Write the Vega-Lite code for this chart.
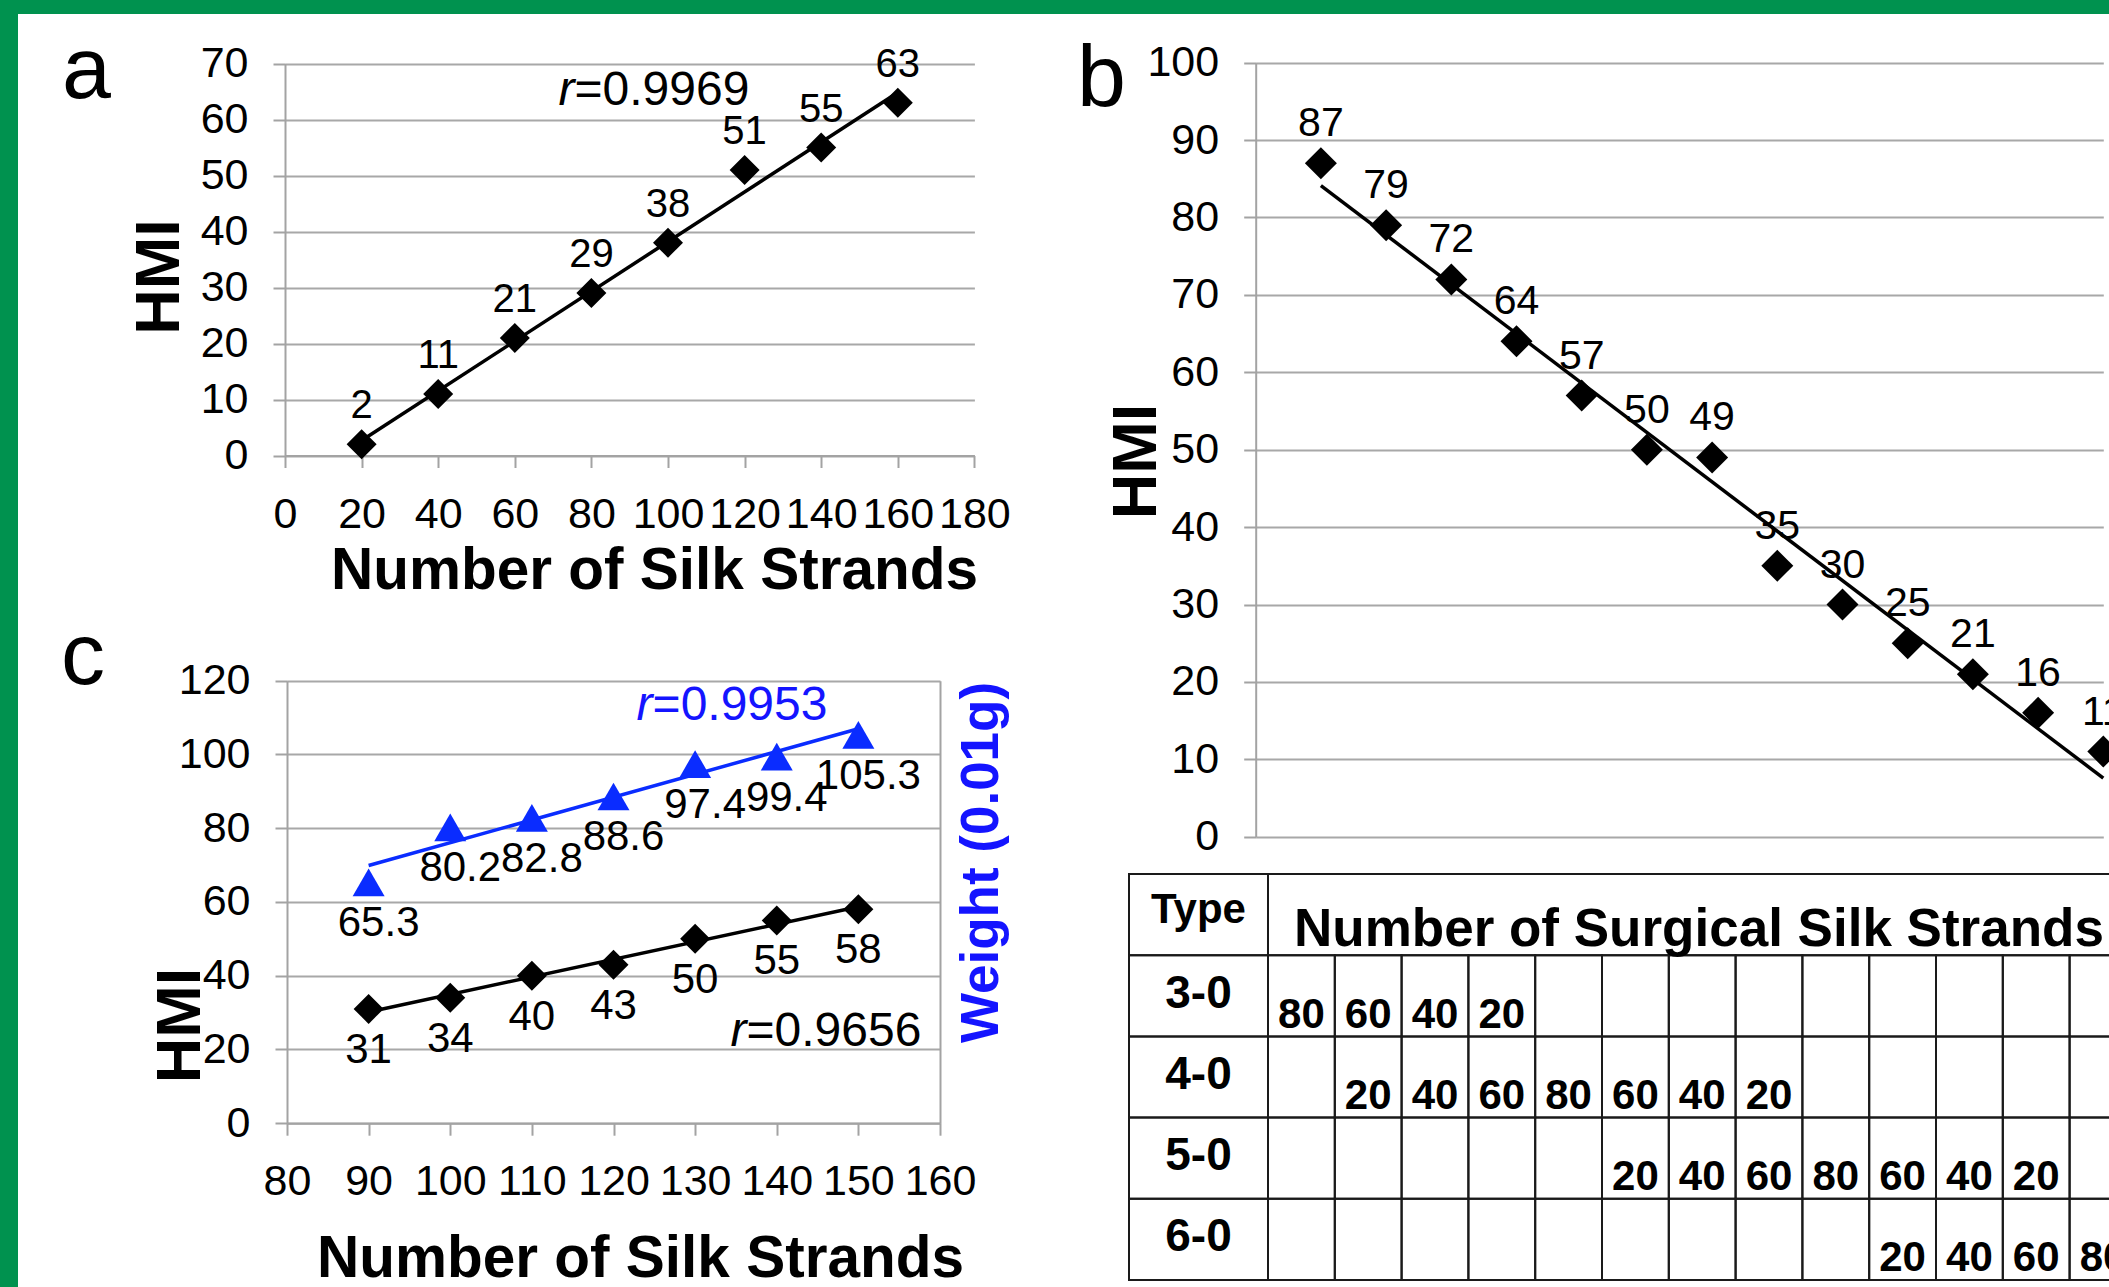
{
  "$schema": "https://vega.github.io/schema/vega-lite/v6.json",
  "width": 2091,
  "height": 1273,
  "autosize": {"type": "none"},
  "padding": {"left": 18, "top": 14, "right": 0, "bottom": 0},
  "background": "#00924f",
  "view": {"fill": "white", "stroke": null},
  "config": {
    "font": "Liberation Sans",
    "view": {"stroke": null},
    "axis": {
      "domainColor": "#a3a3a3", "domainWidth": 2,
      "tickColor": "#a3a3a3", "tickWidth": 2, "tickSize": 12,
      "gridColor": "#a8a8a8", "gridWidth": 2,
      "labelFont": "Liberation Sans", "labelFontSize": 43, "labelColor": "#000000",
      "labelPadding": 25,
      "titleFont": "Liberation Sans", "titleFontWeight": "bold", "titleColor": "#000000"
    }
  },
  "datasets": {
    "a": [{"n":20,"hmi":2},{"n":40,"hmi":11},{"n":60,"hmi":21},{"n":80,"hmi":29},{"n":100,"hmi":38},{"n":120,"hmi":51},{"n":140,"hmi":55},{"n":160,"hmi":63}],
    "b": [{"k":1,"hmi":87},{"k":2,"hmi":79},{"k":3,"hmi":72},{"k":4,"hmi":64},{"k":5,"hmi":57},{"k":6,"hmi":50},{"k":7,"hmi":49},{"k":8,"hmi":35},{"k":9,"hmi":30},{"k":10,"hmi":25},{"k":11,"hmi":21},{"k":12,"hmi":16},{"k":13,"hmi":11}],
    "c": [{"n":90,"hmi":31,"w":65.3},{"n":100,"hmi":34,"w":80.2},{"n":110,"hmi":40,"w":82.8},{"n":120,"hmi":43,"w":88.6},{"n":130,"hmi":50,"w":97.4},{"n":140,"hmi":55,"w":99.4},{"n":150,"hmi":58,"w":105.3}],
    "types": [{"type":"Type","col":"Type"},{"type":"3-0","col":"Type"},{"type":"4-0","col":"Type"},{"type":"5-0","col":"Type"},{"type":"6-0","col":"Type"}],
    "header": [{"type":"Type","col":"hdr","t":"Number of Surgical Silk Strands"}],
    "cells": [
      {"type":"3-0","col":1,"n":80},{"type":"3-0","col":2,"n":60},{"type":"3-0","col":3,"n":40},{"type":"3-0","col":4,"n":20},{"type":"3-0","col":5,"n":null},{"type":"3-0","col":6,"n":null},{"type":"3-0","col":7,"n":null},{"type":"3-0","col":8,"n":null},{"type":"3-0","col":9,"n":null},{"type":"3-0","col":10,"n":null},{"type":"3-0","col":11,"n":null},{"type":"3-0","col":12,"n":null},{"type":"3-0","col":13,"n":null},
      {"type":"4-0","col":1,"n":null},{"type":"4-0","col":2,"n":20},{"type":"4-0","col":3,"n":40},{"type":"4-0","col":4,"n":60},{"type":"4-0","col":5,"n":80},{"type":"4-0","col":6,"n":60},{"type":"4-0","col":7,"n":40},{"type":"4-0","col":8,"n":20},{"type":"4-0","col":9,"n":null},{"type":"4-0","col":10,"n":null},{"type":"4-0","col":11,"n":null},{"type":"4-0","col":12,"n":null},{"type":"4-0","col":13,"n":null},
      {"type":"5-0","col":1,"n":null},{"type":"5-0","col":2,"n":null},{"type":"5-0","col":3,"n":null},{"type":"5-0","col":4,"n":null},{"type":"5-0","col":5,"n":null},{"type":"5-0","col":6,"n":20},{"type":"5-0","col":7,"n":40},{"type":"5-0","col":8,"n":60},{"type":"5-0","col":9,"n":80},{"type":"5-0","col":10,"n":60},{"type":"5-0","col":11,"n":40},{"type":"5-0","col":12,"n":20},{"type":"5-0","col":13,"n":null},
      {"type":"6-0","col":1,"n":null},{"type":"6-0","col":2,"n":null},{"type":"6-0","col":3,"n":null},{"type":"6-0","col":4,"n":null},{"type":"6-0","col":5,"n":null},{"type":"6-0","col":6,"n":null},{"type":"6-0","col":7,"n":null},{"type":"6-0","col":8,"n":null},{"type":"6-0","col":9,"n":null},{"type":"6-0","col":10,"n":20},{"type":"6-0","col":11,"n":40},{"type":"6-0","col":12,"n":60},{"type":"6-0","col":13,"n":80}
    ]
  },
  "layer": [
    {
      "data": {"name": "a"},
      "transform": [{"regression": "hmi", "on": "n"}],
      "mark": {"type": "line", "color": "#000000", "strokeWidth": 3.5},
      "encoding": {
        "x": {"field": "n", "type": "quantitative", "scale": {"domain":[0,180],"range":[267,956.4],"nice":false,"zero":false},
              "axis": {"orient":"bottom","offset":-831.5,"values":[0,20,40,60,80,100,120,140,160,180],"grid":false,"labelOverlap":false,"labelFlush":false,"labelPadding":26,"title":"Number of Silk Strands","titleFontSize":58.5,"titleAngle":0,"titleX":636,"titleY":133,"titleBaseline":"alphabetic","titleAlign":"center"}},
        "y": {"field": "hmi", "type": "quantitative", "scale": {"domain":[0,70],"range":[441.5,49.5],"nice":false,"zero":false},
              "axis": {"orient":"left","offset":-267,"values":[0,10,20,30,40,50,60,70],"grid":true,"labelOverlap":false,"labelFlush":false,"title":"HMI","titleFontSize":63,"titleAngle":270,"titleX":-107,"titleY":262.5,"titleBaseline":"alphabetic","titleAlign":"center"}}
      }
    },
    {
      "data": {"name": "a"},
      "mark": {"type": "point", "shape": "diamond", "filled": true, "size": 900, "color": "#000000", "opacity": 1},
      "encoding": {
        "x": {"field": "n", "type": "quantitative", "scale": {"domain":[0,180],"range":[267,956.4],"nice":false,"zero":false}, "axis": null},
        "y": {"field": "hmi", "type": "quantitative", "scale": {"domain":[0,70],"range":[441.5,49.5],"nice":false,"zero":false}, "axis": null}
      }
    },
    {
      "data": {"name": "a"},
      "mark": {"type": "text", "fontSize": 40, "dy": -26, "baseline": "alphabetic", "align": "center", "color": "#000000"},
      "encoding": {
        "x": {"field": "n", "type": "quantitative", "scale": {"domain":[0,180],"range":[267,956.4],"nice":false,"zero":false}, "axis": null},
        "y": {"field": "hmi", "type": "quantitative", "scale": {"domain":[0,70],"range":[441.5,49.5],"nice":false,"zero":false}, "axis": null},
        "text": {"field": "hmi", "type": "nominal"}
      }
    },
    {
      "data": {"values": [{"t": "a"}]},
      "mark": {"type": "text", "fontSize": 88, "align": "left", "baseline": "alphabetic", "color": "#000000"},
      "encoding": {
        "x": {"datum": -58.2, "type": "quantitative", "scale": {"domain":[0,180],"range":[267,956.4],"nice":false,"zero":false}, "axis": null},
        "y": {"datum": 63.84, "type": "quantitative", "scale": {"domain":[0,70],"range":[441.5,49.5],"nice":false,"zero":false}, "axis": null},
        "text": {"field": "t"}
      }
    },
    {
      "data": {"values": [{"t": "r"}]},
      "mark": {"type": "text", "fontSize": 48, "fontStyle": "italic", "align": "right", "baseline": "alphabetic", "color": "#000000"},
      "encoding": {
        "x": {"datum": 75.6, "type": "quantitative", "scale": {"domain":[0,180],"range":[267,956.4],"nice":false,"zero":false}, "axis": null},
        "y": {"datum": 62.6, "type": "quantitative", "scale": {"domain":[0,70],"range":[441.5,49.5],"nice":false,"zero":false}, "axis": null},
        "text": {"field": "t"}
      }
    },
    {
      "data": {"values": [{"t": "=0.9969"}]},
      "mark": {"type": "text", "fontSize": 48, "align": "left", "baseline": "alphabetic", "color": "#000000"},
      "encoding": {
        "x": {"datum": 75.6, "type": "quantitative", "scale": {"domain":[0,180],"range":[267,956.4],"nice":false,"zero":false}, "axis": null},
        "y": {"datum": 62.6, "type": "quantitative", "scale": {"domain":[0,70],"range":[441.5,49.5],"nice":false,"zero":false}, "axis": null},
        "text": {"field": "t"}
      }
    },
    {
      "data": {"name": "b"},
      "transform": [{"regression": "hmi", "on": "k"}],
      "mark": {"type": "line", "color": "#000000", "strokeWidth": 3.5},
      "encoding": {
        "x": {"field": "k", "type": "quantitative", "scale": {"domain":[0,13],"range":[1237.7,2085.3],"nice":false,"zero":false}, "axis": null},
        "y": {"field": "hmi", "type": "quantitative", "scale": {"domain":[0,100],"range":[822.7,48.7],"nice":false,"zero":false},
              "axis": {"orient":"left","offset":-1237.7,"values":[0,10,20,30,40,50,60,70,80,90,100],"grid":true,"labelOverlap":false,"labelFlush":false,"title":"HMI","titleFontSize":63,"titleAngle":270,"titleX":-100.7,"titleY":447,"titleBaseline":"alphabetic","titleAlign":"center"}}
      }
    },
    {
      "data": {"name": "b"},
      "mark": {"type": "point", "shape": "diamond", "filled": true, "size": 1024, "color": "#000000", "opacity": 1},
      "encoding": {
        "x": {"field": "k", "type": "quantitative", "scale": {"domain":[0,13],"range":[1237.7,2085.3],"nice":false,"zero":false}, "axis": null},
        "y": {"field": "hmi", "type": "quantitative", "scale": {"domain":[0,100],"range":[822.7,48.7],"nice":false,"zero":false}, "axis": null}
      }
    },
    {
      "data": {"name": "b"},
      "mark": {"type": "text", "fontSize": 41, "dy": -27, "baseline": "alphabetic", "align": "center", "color": "#000000"},
      "encoding": {
        "x": {"field": "k", "type": "quantitative", "scale": {"domain":[0,13],"range":[1237.7,2085.3],"nice":false,"zero":false}, "axis": null},
        "y": {"field": "hmi", "type": "quantitative", "scale": {"domain":[0,100],"range":[822.7,48.7],"nice":false,"zero":false}, "axis": null},
        "text": {"field": "hmi", "type": "nominal"}
      }
    },
    {
      "data": {"values": [{"t": "b"}]},
      "mark": {"type": "text", "fontSize": 88, "align": "left", "baseline": "alphabetic", "color": "#000000"},
      "encoding": {
        "x": {"datum": -2.741, "type": "quantitative", "scale": {"domain":[0,13],"range":[1237.7,2085.3],"nice":false,"zero":false}, "axis": null},
        "y": {"datum": 94.41, "type": "quantitative", "scale": {"domain":[0,100],"range":[822.7,48.7],"nice":false,"zero":false}, "axis": null},
        "text": {"field": "t"}
      }
    },
    {
      "data": {"name": "c"},
      "transform": [{"regression": "hmi", "on": "n"}],
      "mark": {"type": "line", "color": "#000000", "strokeWidth": 3.5},
      "encoding": {
        "x": {"field": "n", "type": "quantitative", "scale": {"domain":[80,160],"range":[269,922],"nice":false,"zero":false},
              "axis": {"orient":"bottom","offset":-163.8,"values":[80,90,100,110,120,130,140,150,160],"grid":false,"labelOverlap":false,"labelFlush":false,"labelPadding":25,"title":"Number of Silk Strands","titleFontSize":58.5,"titleAngle":0,"titleX":622,"titleY":152.8,"titleBaseline":"alphabetic","titleAlign":"center"}},
        "y": {"field": "hmi", "type": "quantitative", "scale": {"domain":[0,120],"range":[1109.2,666.7],"nice":false,"zero":false},
              "axis": {"orient":"left","offset":-269,"values":[0,20,40,60,80,100,120],"grid":true,"labelOverlap":false,"labelFlush":false,"title":"HMI","titleFontSize":63,"titleAngle":270,"titleX":-88,"titleY":1011,"titleBaseline":"alphabetic","titleAlign":"center"}}
      }
    },
    {
      "data": {"name": "c"},
      "mark": {"type": "point", "shape": "diamond", "filled": true, "size": 900, "color": "#000000", "opacity": 1},
      "encoding": {
        "x": {"field": "n", "type": "quantitative", "scale": {"domain":[80,160],"range":[269,922],"nice":false,"zero":false}, "axis": null},
        "y": {"field": "hmi", "type": "quantitative", "scale": {"domain":[0,120],"range":[1109.2,666.7],"nice":false,"zero":false}, "axis": null}
      }
    },
    {
      "data": {"name": "c"},
      "mark": {"type": "text", "fontSize": 42, "dy": 54, "baseline": "alphabetic", "align": "center", "color": "#000000"},
      "encoding": {
        "x": {"field": "n", "type": "quantitative", "scale": {"domain":[80,160],"range":[269,922],"nice":false,"zero":false}, "axis": null},
        "y": {"field": "hmi", "type": "quantitative", "scale": {"domain":[0,120],"range":[1109.2,666.7],"nice":false,"zero":false}, "axis": null},
        "text": {"field": "hmi", "type": "nominal"}
      }
    },
    {
      "data": {"values": [{"t": "c"}]},
      "mark": {"type": "text", "fontSize": 88, "align": "left", "baseline": "alphabetic", "color": "#000000"},
      "encoding": {
        "x": {"datum": 52.31, "type": "quantitative", "scale": {"domain":[80,160],"range":[269,922],"nice":false,"zero":false}, "axis": null},
        "y": {"datum": 119.16, "type": "quantitative", "scale": {"domain":[0,120],"range":[1109.2,666.7],"nice":false,"zero":false}, "axis": null},
        "text": {"field": "t"}
      }
    },
    {
      "data": {"values": [{"t": "r"}]},
      "mark": {"type": "text", "fontSize": 48, "fontStyle": "italic", "align": "right", "baseline": "alphabetic", "color": "#000000"},
      "encoding": {
        "x": {"datum": 136.3, "type": "quantitative", "scale": {"domain":[80,160],"range":[269,922],"nice":false,"zero":false}, "axis": null},
        "y": {"datum": 21.07, "type": "quantitative", "scale": {"domain":[0,120],"range":[1109.2,666.7],"nice":false,"zero":false}, "axis": null},
        "text": {"field": "t"}
      }
    },
    {
      "data": {"values": [{"t": "=0.9656"}]},
      "mark": {"type": "text", "fontSize": 48, "align": "left", "baseline": "alphabetic", "color": "#000000"},
      "encoding": {
        "x": {"datum": 136.3, "type": "quantitative", "scale": {"domain":[80,160],"range":[269,922],"nice":false,"zero":false}, "axis": null},
        "y": {"datum": 21.07, "type": "quantitative", "scale": {"domain":[0,120],"range":[1109.2,666.7],"nice":false,"zero":false}, "axis": null},
        "text": {"field": "t"}
      }
    },
    {
      "data": {"name": "c"},
      "transform": [{"regression": "w", "on": "n"}],
      "mark": {"type": "line", "color": "#0a2cff", "strokeWidth": 3.5},
      "encoding": {
        "x": {"field": "n", "type": "quantitative", "scale": {"domain":[80,160],"range":[269,922],"nice":false,"zero":false}, "axis": null},
        "y": {"field": "w", "type": "quantitative", "scale": {"domain":[0,120],"range":[1109.2,666.7],"nice":false,"zero":false},
              "axis": {"orient":"right","offset":-1169,"values":[0,20,40,60,80,100,120],"grid":false,"ticks":false,"labels":false,"title":"Weight (0.01g)","titleColor":"#1414ff","titleFontSize":53,"titleAngle":270,"titleX":57,"titleY":848,"titleBaseline":"alphabetic","titleAlign":"center"}}
      }
    },
    {
      "data": {"name": "c"},
      "mark": {"type": "point", "shape": "triangle-up", "filled": true, "size": 1024, "color": "#0a2cff", "opacity": 1},
      "encoding": {
        "x": {"field": "n", "type": "quantitative", "scale": {"domain":[80,160],"range":[269,922],"nice":false,"zero":false}, "axis": null},
        "y": {"field": "w", "type": "quantitative", "scale": {"domain":[0,120],"range":[1109.2,666.7],"nice":false,"zero":false}, "axis": null}
      }
    },
    {
      "data": {"name": "c"},
      "mark": {"type": "text", "fontSize": 42, "dy": 54, "dx": 10, "baseline": "alphabetic", "align": "center", "color": "#000000"},
      "encoding": {
        "x": {"field": "n", "type": "quantitative", "scale": {"domain":[80,160],"range":[269,922],"nice":false,"zero":false}, "axis": null},
        "y": {"field": "w", "type": "quantitative", "scale": {"domain":[0,120],"range":[1109.2,666.7],"nice":false,"zero":false}, "axis": null},
        "text": {"field": "w", "type": "nominal"}
      }
    },
    {
      "data": {"values": [{"t": "r"}]},
      "mark": {"type": "text", "fontSize": 48, "fontStyle": "italic", "align": "right", "baseline": "alphabetic", "color": "#1414ff"},
      "encoding": {
        "x": {"datum": 124.79, "type": "quantitative", "scale": {"domain":[80,160],"range":[269,922],"nice":false,"zero":false}, "axis": null},
        "y": {"datum": 109.34, "type": "quantitative", "scale": {"domain":[0,120],"range":[1109.2,666.7],"nice":false,"zero":false}, "axis": null},
        "text": {"field": "t"}
      }
    },
    {
      "data": {"values": [{"t": "=0.9953"}]},
      "mark": {"type": "text", "fontSize": 48, "align": "left", "baseline": "alphabetic", "color": "#1414ff"},
      "encoding": {
        "x": {"datum": 124.79, "type": "quantitative", "scale": {"domain":[80,160],"range":[269,922],"nice":false,"zero":false}, "axis": null},
        "y": {"datum": 109.34, "type": "quantitative", "scale": {"domain":[0,120],"range":[1109.2,666.7],"nice":false,"zero":false}, "axis": null},
        "text": {"field": "t"}
      }
    },
    {
      "data": {"name": "cells"},
      "mark": {"type": "rect", "fill": null, "stroke": "#1a1a1a", "strokeWidth": 2},
      "encoding": {
        "x": {"field": "col", "type": "ordinal", "scale": {"type":"band","domain":[1,2,3,4,5,6,7,8,9,10,11,12,13],"range":[1250,2118.4],"paddingInner":0,"paddingOuter":0}, "axis": null},
        "y": {"field": "type", "type": "nominal", "scale": {"type":"band","domain":["Type","3-0","4-0","5-0","6-0"],"range":[860,1266],"paddingInner":0,"paddingOuter":0}, "axis": null}
      }
    },
    {
      "data": {"name": "cells"},
      "transform": [{"filter": "datum.n != null"}],
      "mark": {"type": "text", "fontSize": 42, "fontWeight": "bold", "dy": 32, "baseline": "alphabetic", "align": "center", "color": "#000000"},
      "encoding": {
        "x": {"field": "col", "type": "ordinal", "scale": {"type":"band","domain":[1,2,3,4,5,6,7,8,9,10,11,12,13],"range":[1250,2118.4],"paddingInner":0,"paddingOuter":0}, "axis": null},
        "y": {"field": "type", "type": "nominal", "scale": {"type":"band","domain":["Type","3-0","4-0","5-0","6-0"],"range":[860,1266],"paddingInner":0,"paddingOuter":0}, "axis": null},
        "text": {"field": "n", "type": "nominal"}
      }
    },
    {
      "data": {"name": "types"},
      "mark": {"type": "rect", "fill": null, "stroke": "#1a1a1a", "strokeWidth": 2},
      "encoding": {
        "x": {"field": "col", "type": "nominal", "scale": {"type":"band","domain":["Type"],"range":[1111,1250],"paddingInner":0,"paddingOuter":0}, "axis": null},
        "y": {"field": "type", "type": "nominal", "scale": {"type":"band","domain":["Type","3-0","4-0","5-0","6-0"],"range":[860,1266],"paddingInner":0,"paddingOuter":0}, "axis": null}
      }
    },
    {
      "data": {"name": "types"},
      "transform": [{"filter": "datum.type != 'Type'"}],
      "mark": {"type": "text", "fontSize": 46, "fontWeight": "bold", "dy": -2, "baseline": "middle", "align": "center", "color": "#000000"},
      "encoding": {
        "x": {"field": "col", "type": "nominal", "scale": {"type":"band","domain":["Type"],"range":[1111,1250],"paddingInner":0,"paddingOuter":0}, "axis": null},
        "y": {"field": "type", "type": "nominal", "scale": {"type":"band","domain":["Type","3-0","4-0","5-0","6-0"],"range":[860,1266],"paddingInner":0,"paddingOuter":0}, "axis": null},
        "text": {"field": "type", "type": "nominal"}
      }
    },
    {
      "data": {"name": "types"},
      "transform": [{"filter": "datum.type == 'Type'"}],
      "mark": {"type": "text", "fontSize": 42, "fontWeight": "bold", "dy": -5, "baseline": "middle", "align": "center", "color": "#000000"},
      "encoding": {
        "x": {"field": "col", "type": "nominal", "scale": {"type":"band","domain":["Type"],"range":[1111,1250],"paddingInner":0,"paddingOuter":0}, "axis": null},
        "y": {"field": "type", "type": "nominal", "scale": {"type":"band","domain":["Type","3-0","4-0","5-0","6-0"],"range":[860,1266],"paddingInner":0,"paddingOuter":0}, "axis": null},
        "text": {"field": "type", "type": "nominal"}
      }
    },
    {
      "data": {"name": "header"},
      "mark": {"type": "rect", "fill": null, "stroke": "#1a1a1a", "strokeWidth": 2},
      "encoding": {
        "x": {"field": "col", "type": "nominal", "scale": {"type":"band","domain":["hdr"],"range":[1250,2118.4],"paddingInner":0,"paddingOuter":0}, "axis": null},
        "y": {"field": "type", "type": "nominal", "scale": {"type":"band","domain":["Type","3-0","4-0","5-0","6-0"],"range":[860,1266],"paddingInner":0,"paddingOuter":0}, "axis": null}
      }
    },
    {
      "data": {"name": "header"},
      "mark": {"type": "text", "fontSize": 53, "fontWeight": "bold", "dx": 26, "dy": 31.4, "baseline": "alphabetic", "align": "left", "color": "#000000"},
      "encoding": {
        "x": {"field": "col", "type": "nominal", "bandPosition": 0, "scale": {"type":"band","domain":["hdr"],"range":[1250,2118.4],"paddingInner":0,"paddingOuter":0}, "axis": null},
        "y": {"field": "type", "type": "nominal", "scale": {"type":"band","domain":["Type","3-0","4-0","5-0","6-0"],"range":[860,1266],"paddingInner":0,"paddingOuter":0}, "axis": null},
        "text": {"field": "t", "type": "nominal"}
      }
    }
  ],
  "resolve": {
    "scale": {"x": "independent", "y": "independent"},
    "axis": {"x": "independent", "y": "independent"}
  }
}
